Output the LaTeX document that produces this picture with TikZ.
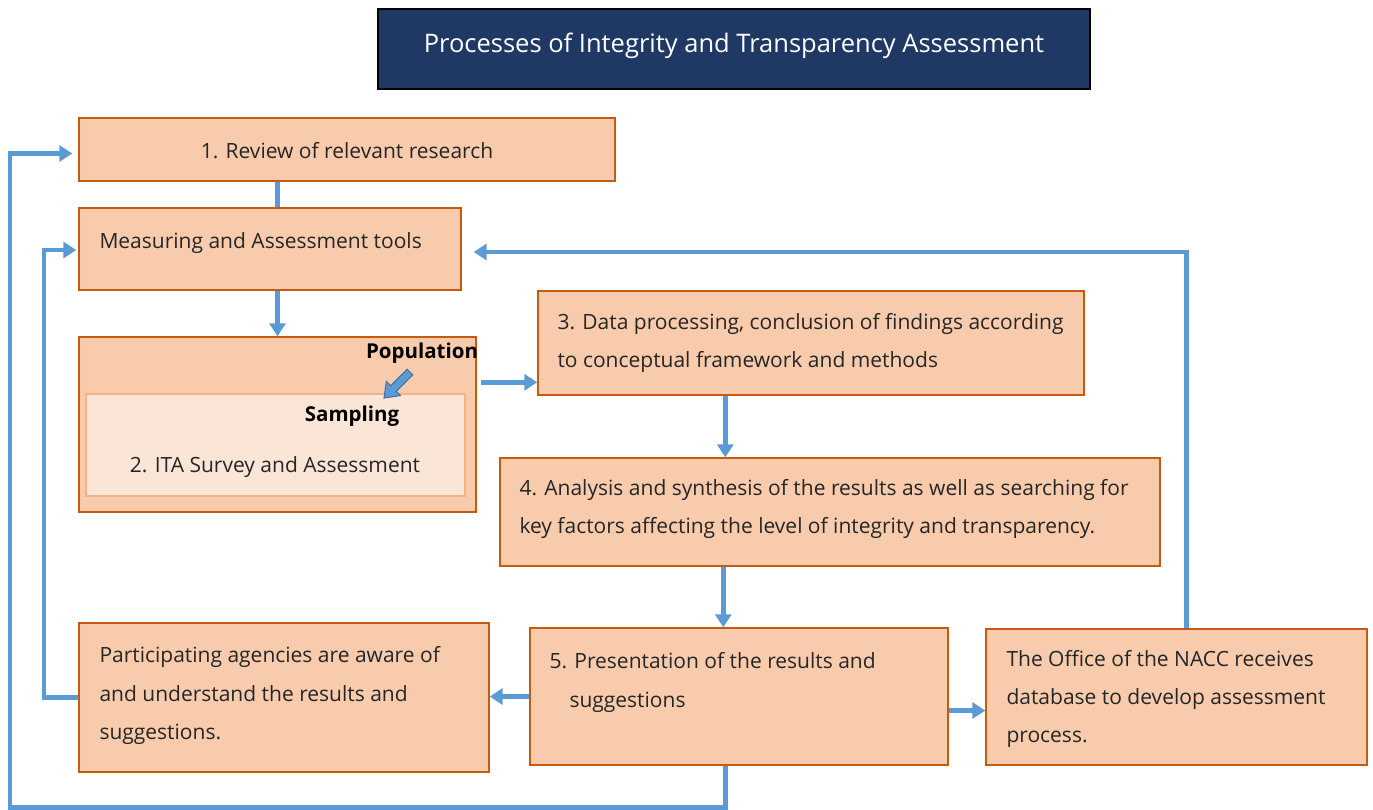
\documentclass[tikz,border=0pt]{standalone}
\usepackage{fontspec}
\setmainfont{Open Sans}
\usetikzlibrary{arrows.meta,calc}
\definecolor{boxfill}{HTML}{F8CBAD}
\definecolor{boxline}{HTML}{C55A11}
\definecolor{innerfill}{HTML}{FBE5D6}
\definecolor{innerline}{HTML}{F4B183}
\definecolor{flow}{HTML}{5B9BD5}
\definecolor{flowdark}{HTML}{41719C}
\definecolor{navy}{HTML}{203864}
\definecolor{ink}{HTML}{262626}
\begin{document}
\begin{tikzpicture}[x=1pt,y=-1pt,
  box/.style={draw=boxline, fill=boxfill, line width=1.4pt, rectangle, inner sep=0pt},
  innerbox/.style={draw=innerline, fill=innerfill, line width=1.4pt, rectangle, inner sep=0pt},
  txt/.style={inner sep=0pt, text=ink, align=left, font=\fontsize{21}{38.3}\selectfont},
  btxt/.style={inner sep=0pt, text=black, font=\fontsize{20.5}{37}\selectfont\bfseries},
  flowline/.style={draw=flow, line width=4.5pt},
  flowarrow/.style={flowline, -{Triangle[length=13pt,width=16pt]}}
]
\useasboundingbox (0,0) rectangle (1373,809);

% title
\node[draw=black, fill=navy, line width=1.4pt, minimum width=712pt, minimum height=80pt, inner sep=0pt] (title) at (734,49) {};
\node[inner sep=0pt, text=white, font=\fontsize{25.5}{30}\selectfont] (ttitle) at (734,46) {Processes of Integrity and Transparency Assessment};

% boxes
\node[box, minimum width=536pt, minimum height=63pt] (b1) at (347,149.5) {};
\node[txt, align=center] (t1) at ($(b1.center)+(0,1)$) {1. Review of relevant research};

\node[box, minimum width=382pt, minimum height=82pt] (bm) at (270,249) {};
\node[txt, anchor=west] (tm) at ($(bm.west)+(21,-6)$) {Measuring and Assessment tools};

\node[box, minimum width=397pt, minimum height=175pt] (b2) at (277.5,424.5) {};
\node[innerbox, minimum width=379pt, minimum height=102pt] (b2i) at (275.5,445) {};
\node[btxt] (pop) at (422,353) {Population};
\node[btxt] (samp) at (352,416) {Sampling};
\node[txt] (t2) at (275,467) {2. ITA Survey and Assessment};
\fill[flow, draw=flowdark, line width=1pt]
  (407.2,369.2) -- (390.7,385.7) -- (386.4,381.4) -- (384,398) -- (400.6,395.6)
  -- (396.3,391.3) -- (412.8,374.8) -- cycle;

\node[box, minimum width=546pt, minimum height=104pt] (b3) at (811,343) {};
\node[txt, anchor=west] (t3) at ($(b3.west)+(20,0)$) {3. Data processing, conclusion of findings according\\to conceptual framework and methods};

\node[box, minimum width=660pt, minimum height=108pt] (b4) at (830,512) {};
\node[txt, anchor=west] (t4) at ($(b4.west)+(20,-3)$) {4. Analysis and synthesis of the results as well as searching for\\key factors affecting the level of integrity and transparency.};

\node[box, minimum width=410pt, minimum height=149pt] (bp) at (284,697.5) {};
\node[txt, anchor=west] (tp) at ($(bp.west)+(21,-2)$) {Participating agencies are aware of\\and understand the results and\\suggestions.};

\node[box, minimum width=418pt, minimum height=137pt] (b5) at (739,696.5) {};
\node[txt, anchor=west] (t5) at ($(b5.west)+(20,-14)$) {5. Presentation of the results and\\\hspace*{20pt}suggestions};

\node[box, minimum width=381pt, minimum height=136pt] (bn) at (1176.5,697) {};
\node[txt, anchor=west] (tn) at ($(bn.west)+(21,2)$) {The Office of the NACC receives\\database to develop assessment\\process.};

% helper coordinates
\coordinate (colA) at (44,0);
\coordinate (corner) at (10,807.5);
\coordinate (s23) at ($(b2.north east)+(4,46)$);
\coordinate (s34) at ($(b3.south west)+(188,0)$);
\coordinate (e45) at ($(b5.north west)+(194,0)$);
\coordinate (s5n) at ($(b5.east)+(0,14)$);
\coordinate (snm) at ($(bn.north)+(10,0)$);
\coordinate (enm) at ($(bm.east)+(12,3)$);
\coordinate (epm) at ($(bm.west)+(-2,1)$);
\coordinate (s51) at ($(b5.south west)+(196,0)$);
\coordinate (e51) at ($(b1.west)+(-6,4)$);

% connectors
\draw[flowline] (b1.south -| b2.north) -- (bm.north -| b2.north);
\draw[flowarrow] (bm.south -| b2.north) -- (b2.north);
\draw[flowarrow] (s23) -- (s23 -| b3.west);
\draw[flowarrow] (s34) -- (s34 |- b4.north);
\draw[flowarrow] (e45 |- b4.south) -- (e45);
\draw[flowarrow] (b5.west) -- (b5.west -| bp.east);
\draw[flowarrow] (s5n) -- (s5n -| bn.west);
\draw[flowarrow] (snm) |- (enm);
\draw[flowarrow] (bp.west) -- (bp.west -| colA) |- (epm);
\draw[flowarrow] (s51) -- (s51 |- corner) -- (corner) |- (e51);
\end{tikzpicture}
\end{document}
